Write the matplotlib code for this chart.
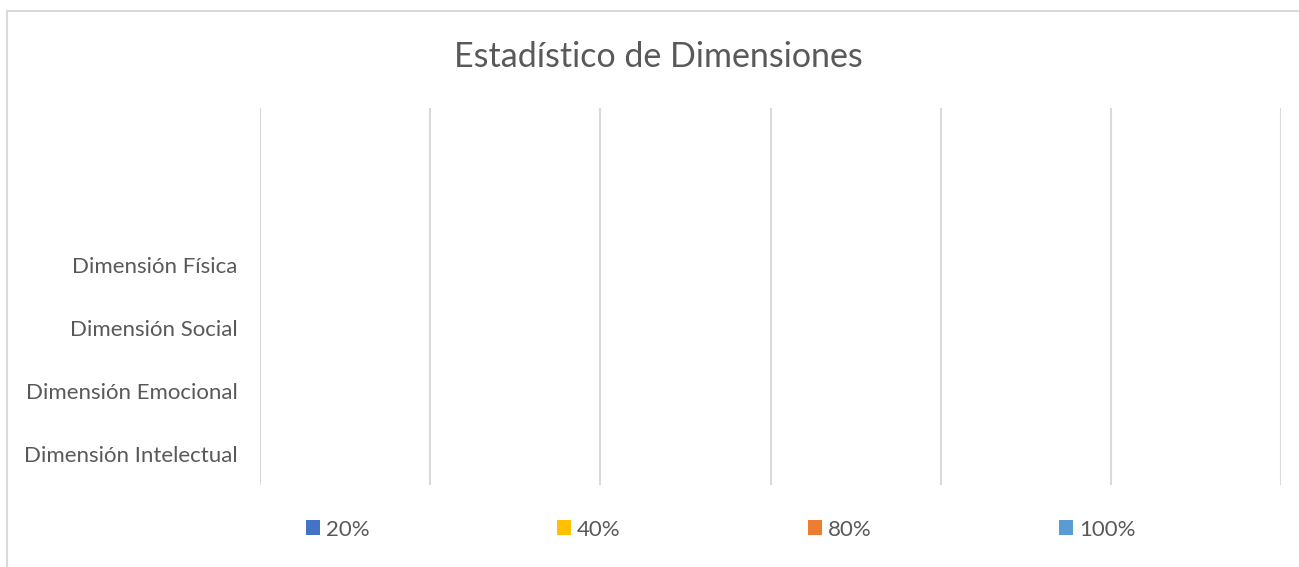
import numpy as np
import matplotlib.pyplot as plt
from matplotlib.patches import Rectangle

categories = ['Dimensión Intelectual', 'Dimensión Emocional', 'Dimensión Social',
              'Dimensión Física', '', '']
series = ['20%', '40%', '80%', '100%']
colors = ['#4472C4', '#FFC000', '#ED7D31', '#5B9BD5']
# no bar is drawn in the source chart: every value is empty
values = {
    '20%': [0, 0, 0, 0, 0, 0],
    '40%': [0, 0, 0, 0, 0, 0],
    '80%': [0, 0, 0, 0, 0, 0],
    '100%': [0, 0, 0, 0, 0, 0],
}

plt.rcParams['font.family'] = ['Lato', 'DejaVu Sans']
txt = '#595959'
grid = '#D9D9D9'

fig = plt.figure(figsize=(12.99, 5.67), dpi=100)
ax = fig.add_axes([260/1299, 1-485/567, 1021/1299, 377/567])

y = np.arange(len(categories))
h = 0.15
handles = []
for i, s in enumerate(series):
    b = ax.barh(y + (i - 1.5)*h, values[s], height=h, color=colors[i], label=s)
    handles.append(b)

ax.set_ylim(-0.5, len(categories) - 0.5)
ax.set_xlim(0, 6)
ax.set_xticks(np.arange(0, 7))
ax.set_xticklabels([])
ax.set_yticks(y)
ax.set_yticklabels(categories, fontsize=16, color=txt)
ax.tick_params(axis='both', length=0, pad=16)
ax.grid(axis='x', color=grid, linewidth=1.5)
ax.set_axisbelow(True)
for sp in ax.spines.values():
    sp.set_visible(False)

fig.text(658/1299, 1-57/567, 'Estadístico de Dimensiones', ha='center', va='center',
         fontsize=24.5, color=txt)

leg = fig.legend(handles=handles, labels=series, loc='center', ncol=4,
                 bbox_to_anchor=(720.5/1299, 1-529.5/567), frameon=False,
                 fontsize=16, handlelength=0.65, handleheight=0.65,
                 handletextpad=0.25, columnspacing=8.43)
for t in leg.get_texts():
    t.set_color(txt)

fig.add_artist(Rectangle((7/1299, -0.1), 1.2, 1.1 - 11/567, transform=fig.transFigure,
                         fill=False, edgecolor=grid, linewidth=1.5))

fig.savefig('out.png', dpi=100)
